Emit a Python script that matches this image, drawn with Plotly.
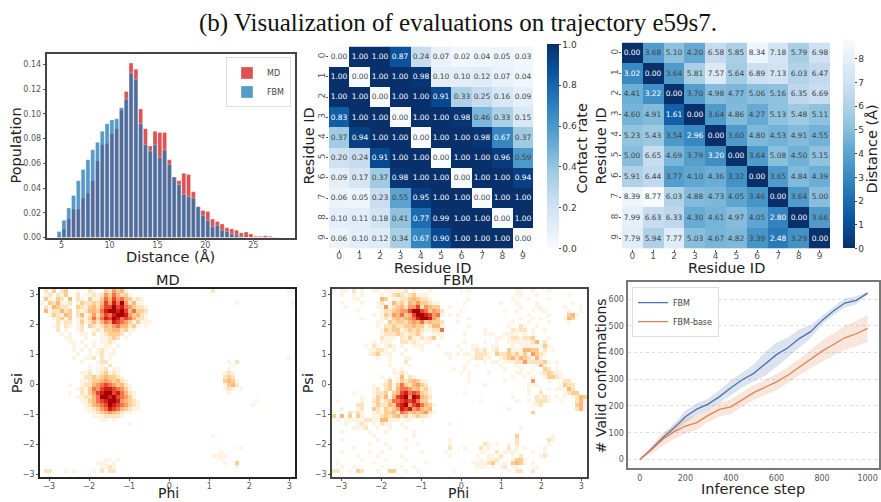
import plotly.graph_objects as go
import numpy as np

W, H = 881, 502

# ---------- histogram ----------
hist_centers = [4.75, 5.25, 5.75, 6.25, 6.75, 7.25, 7.75, 8.25, 8.75, 9.25, 9.75, 10.25, 10.75, 11.25, 11.75, 12.25,
                12.75, 13.25, 13.75, 14.25, 14.75, 15.25, 15.75, 16.25, 16.75, 17.25, 17.75, 18.25, 18.75, 19.25,
                19.75, 20.25, 20.75, 21.25, 21.75, 22.25, 22.75, 23.25, 23.75, 24.25, 24.75, 25.25, 25.75, 26.25,
                26.75, 27.25]
hist_fbm = [.005, .014, .024, .034, .046, .055, .063, .071, .077, .086, .092, .095, .096, .105, .112, .133,
            .128, .092, .075, .070, .075, .065, .071, .059, .049, .043, .035, .033, .032, .025,
            .018, .014, .009, .010, .006, .005, .003, .002, .001, 0, 0, 0, 0, 0, 0, 0]
hist_md = [.001, .007, .015, .023, .023, .032, .036, .046, .062, .075, .076, .084, .088, .103, .118, .141,
           .136, .104, .088, .074, .086, .085, .085, .063, .049, .046, .052, .051, .037, .025,
           .022, .021, .015, .013, .011, .008, .007, .006, .004, .0045, .003, .001, .001, .0015, .001, .0005]

# ---------- heatmaps ----------
residue_ids = list(range(10))
contact = [
    [0.00, 1.00, 1.00, 0.87, 0.24, 0.07, 0.02, 0.04, 0.05, 0.03],
    [1.00, 0.00, 1.00, 1.00, 0.98, 0.10, 0.10, 0.12, 0.07, 0.04],
    [1.00, 1.00, 0.00, 1.00, 1.00, 0.91, 0.33, 0.25, 0.16, 0.09],
    [0.83, 1.00, 1.00, 0.00, 1.00, 1.00, 0.98, 0.46, 0.33, 0.15],
    [0.37, 0.94, 1.00, 1.00, 0.00, 1.00, 1.00, 0.98, 0.67, 0.37],
    [0.20, 0.24, 0.91, 1.00, 1.00, 0.00, 1.00, 1.00, 0.96, 0.59],
    [0.09, 0.17, 0.37, 0.98, 1.00, 1.00, 0.00, 1.00, 1.00, 0.94],
    [0.06, 0.05, 0.23, 0.55, 0.95, 1.00, 1.00, 0.00, 1.00, 1.00],
    [0.10, 0.11, 0.18, 0.41, 0.77, 0.99, 1.00, 1.00, 0.00, 1.00],
    [0.06, 0.10, 0.12, 0.34, 0.67, 0.90, 1.00, 1.00, 1.00, 0.00],
]
distance = [
    [0.00, 3.68, 5.10, 4.20, 6.58, 5.85, 8.34, 7.18, 5.79, 6.98],
    [3.02, 0.00, 3.64, 5.81, 7.57, 5.64, 6.89, 7.13, 6.03, 6.47],
    [4.41, 3.22, 0.00, 3.70, 4.98, 4.77, 5.06, 5.16, 6.35, 6.69],
    [4.60, 4.91, 1.61, 0.00, 3.64, 4.86, 4.27, 5.13, 5.48, 5.11],
    [5.23, 5.43, 3.54, 2.96, 0.00, 3.60, 4.80, 4.53, 4.91, 4.55],
    [5.00, 6.65, 4.69, 3.79, 3.20, 0.00, 3.64, 5.08, 4.50, 5.15],
    [5.91, 6.44, 3.77, 4.10, 4.36, 3.32, 0.00, 3.65, 4.84, 4.39],
    [8.39, 8.77, 6.03, 4.88, 4.73, 4.05, 3.46, 0.00, 3.64, 5.00],
    [7.99, 6.63, 6.33, 4.30, 4.61, 4.97, 4.05, 2.80, 0.00, 3.66],
    [7.79, 5.94, 7.77, 5.03, 4.67, 4.82, 3.39, 2.48, 3.29, 0.00],
]

# ---------- Ramachandran densities, levels read by eye (top row = largest psi) ----------
rama_md_rows = [
"02130230 01002100 32534100 00000000 00000000 00020000 00000000 00000010",
"01202130 02011212 53642310 00000000 00000000 00000000 00000000 00000000",
"03113204 02103113 64756431 21000000 00000000 00000000 00000000 00000000",
"10324112 01322324 75869524 11000000 00000000 00000000 01000000 00000001",
"02143221 03213425 77978653 22100000 00000000 00000000 00000000 00000000",
"04122423 02124436 89989746 33200000 00000000 00000000 00000000 00000000",
"00132143 02412525 76899853 42100000 00000000 00000000 00000000 00000000",
"00012313 01213636 87986764 22100000 00000000 00000000 00000000 00000000",
"00002122 01312424 65876531 31110000 00000000 00000000 00000000 00000000",
"00012021 01203212 43564423 10100000 00000000 00000000 00000000 00000000",
"00002010 01200121 33442311 00000000 00000000 00000000 00000000 00000000",
"00000101 00110201 23332010 00000000 00000000 00000000 00000000 00000000",
"00000011 00010001 12320100 00000000 00000000 00000000 00000000 00000000",
"00000001 10100101 12100000 00000000 00000000 00000000 00000000 00000000",
"00000000 10010100 11010000 00000000 00000000 00000000 00000000 00000000",
"00000000 10101012 10100000 00000000 00000000 00000000 00000000 00000000",
"00000000 01001012 01100000 00000000 00000000 00000000 00000000 00000000",
"00000000 10011202 01000000 00000000 00000000 00000000 00000000 00000010",
"00000000 00100012 20000000 00000000 00000000 00000001 02000000 00000000",
"00000000 00001001 02000000 00000000 00000000 00000000 10000000 00000000",
"00000000 00001011 20110000 00000000 00000000 00000001 00000000 00000000",
"00000000 00112012 31210000 00000000 00000000 00000012 10000000 00000000",
"00000000 00022323 43321000 00000000 00000000 00000023 20000000 00000000",
"00000000 00112334 54342100 00000000 00000000 00000034 31000000 00000000",
"00000001 00122456 76534210 00000000 00000000 00000013 42000000 00000000",
"00000000 01213657 88765310 00000000 00000000 00000012 10100000 00000000",
"00000001 00213578 99786421 00000000 00000000 00000001 00000000 00000000",
"00000000 01122469 98976531 00000000 00000000 00000000 00000000 00000000",
"00000000 00113467 89985432 10000000 00000000 00000000 00000010 00000000",
"00000000 00012456 79876532 10000000 00000000 00000000 00000100 00000000",
"00000000 00011235 68764321 10000000 00000000 00000000 00000000 00000000",
"00000000 00001123 45432110 00000000 00000000 00000000 00000000 00000000",
"00000000 00000111 22221000 00000000 00000000 00000000 00000000 00000000",
"00000000 00000001 10100000 00000000 00000000 00000000 00000000 00000000",
"00000000 00000000 00000010 00000000 00000000 00000000 00000000 00000000",
"00000000 00000000 00000000 00000000 00000000 00000000 00000000 00000000",
"00000000 00000000 00000000 00000000 00000000 00000000 00000000 00000000",
"00000000 00000000 00000000 00000000 00000000 00010000 00000000 00000000",
"00000000 00000000 00000000 00000000 00000000 00000000 00000000 00000000",
"00000000 00000000 00000000 00000000 00000000 00000000 00000000 00000000",
"00000000 00000000 00000000 00000000 00000000 00000000 00100000 00000000",
"00000000 00000000 00000000 00000000 00000000 00000100 00000000 00000000",
"00000000 00000000 00000000 00000000 00000000 00011110 00000000 00000000",
"00000000 00000000 11010000 00000000 00000000 00000100 00000000 00000000",
"00000000 00000011 10100000 00000000 00000000 00000010 03000000 00000000",
"00000000 00000001 12100000 00000000 00000000 00000000 01000000 00000000",
"02200010 10000102 02200000 00000000 00000000 00000000 00000000 00000000",
"00000000 00000000 00000000 00000000 00000000 00000000 00000000 00000000",
]
rama_fbm_rows = [
"10110201 00110111 11201000 10000000 10100000 00000011 00100010 00000000",
"00100101 00001012 32123111 00000000 00000000 00000011 00010000 00010000",
"00000110 00004301 12234322 10000000 00100000 00000100 01000010 00000000",
"00100001 00012014 23143533 21100000 01000000 00100010 00010000 00001000",
"00010000 00011512 34255725 43300100 00000000 00000001 00011000 00100010",
"00000010 00001223 45579976 35420000 10000000 00010010 00101100 00010010",
"00000000 00101325 46347998 75610101 00000000 00000000 01000010 00034100",
"00000001 00001213 43456899 85300000 00100000 00000001 00101000 00143000",
"00000000 00011032 33245463 43320001 00000000 00000100 01000010 00010000",
"00000000 00010223 22334331 24410000 00100000 00001002 10010000 00000000",
"00000000 00001323 31232321 12260000 00000010 00000212 20100100 00000000",
"00000000 00001222 32122310 01110000 01000011 10011110 10100000 00000000",
"00000000 00002111 02131121 23010000 00000000 01101221 22300010 00000000",
"00000000 00101110 02212101 10000000 01000010 01001111 11240200 00000000",
"00000000 10210121 01001110 00100001 00011000 11000101 11111310 00000000",
"00000000 01122101 00100010 00000000 10012120 12003111 44330201 00000000",
"00000000 01231110 01000000 00001101 01102221 03223231 31532100 00000000",
"00000000 00010010 00110000 00000100 00012211 00123424 32141000 00000000",
"00000000 00000010 00200000 00000000 00100010 11011122 52222310 10000000",
"00000000 00000010 00010000 00000000 01001000 00100010 00014100 00000000",
"00000000 00000001 01000000 00000010 01000000 00010001 00100320 10000000",
"00000000 00000001 12100000 00000000 10100001 00000011 01001232 11000000",
"00000000 00001010 14021000 00000000 00100000 00000100 10100133 21000000",
"00000000 00000130 13234311 00000000 00100000 00010000 00500010 00220000",
"00000000 00101231 36324532 00000000 00000010 00000000 01110000 01322000",
"00000000 00120231 46653423 10000000 00000000 00000000 01001010 11142000",
"00000100 00122303 47867632 10000000 01000000 00000000 01002000 00123300",
"00000001 00132414 78959843 20000000 00000000 00000100 00021210 10101243",
"01000001 00231236 67878633 10000000 00000100 00000010 01022210 01000241",
"00000022 00132243 78957864 31000000 00000000 00000000 00112000 00000341",
"00100012 00321323 58785643 40000000 00000000 00001000 00000000 00000241",
"00002121 00121334 26534345 21000000 00000000 00000000 00300000 00000000",
"30403031 00112323 42312322 10000000 00000000 00000000 00000000 00000000",
"01011111 22114411 10110010 00000000 00000000 00000000 00000000 00000000",
"00010012 10102110 01000000 00000100 00000000 00000000 00000000 00000000",
"00000111 20010010 00100000 00000000 00000000 00000001 00000000 00000000",
"00100000 01000100 00001000 00000000 00000000 00000000 00000000 00000000",
"00000000 00100000 00001000 00000000 00000000 00000030 00000001 00000000",
"00100000 00010000 00100000 00000100 00000000 00000020 00000021 00000000",
"00000000 01000100 00000100 00000100 00000021 01001020 00000010 00000000",
"00000100 00000010 00100000 00000200 01000201 00002010 10000100 00000000",
"00100000 01001000 00000010 00001000 00000110 02011110 00100100 00000000",
"00000010 00010000 01000000 00000100 00001001 10200102 00001200 00000000",
"00000001 00000100 00100000 00000000 00000101 12100133 10000000 00000000",
"01000000 00100000 00000001 00000000 00011112 31010343 10100000 00000000",
"00100100 00001000 01001000 00000000 00001110 10120110 00010000 00000000",
"22001032 00010033 00100100 00000010 00000000 00001022 00200000 00000000",
"00000000 00000000 00000000 00000000 00000000 00000000 00000000 00000000",
]

# ---------- valid conformations ----------
steps = [0, 50, 100, 150, 200, 250, 300, 350, 400, 450, 500, 550, 600, 650, 700, 750, 800, 850, 900, 950, 1000]
fbm_mean = [0, 38, 80, 118, 160, 188, 207, 235, 268, 298, 322, 358, 392, 418, 452, 478, 520, 555, 585, 595, 622]
fbm_band = [0, 5, 8, 15, 22, 22, 20, 24, 28, 28, 32, 45, 45, 38, 35, 25, 15, 15, 18, 15, 5]
base_mean = [0, 35, 75, 103, 125, 138, 165, 187, 197, 225, 250, 270, 290, 315, 345, 375, 405, 430, 455, 470, 490]
base_band = [0, 15, 25, 27, 28, 27, 25, 26, 28, 28, 28, 29, 30, 30, 30, 35, 40, 42, 45, 48, 50]

# ---------- helpers ----------
BLUES = ['#f7fbff', '#deebf7', '#c6dbef', '#9ecae1', '#6baed6', '#4292c6', '#2171b5', '#08519c', '#08306b']
blues_scale = [[i / 8, c] for i, c in enumerate(BLUES)]
blues_r_scale = [[i / 8, c] for i, c in enumerate(reversed(BLUES))]
ORRD = [[0, '#ffffff'], [0.08, '#ffffff'], [0.11, '#fff3e3'], [0.22, '#fee3c0'], [0.33, '#fdcf95'], [0.44, '#fdb97d'],
        [0.56, '#fb9a66'], [0.67, '#f4714c'], [0.78, '#e4452f'], [0.89, '#cc2014'], [1, '#a80000']]
FONT = 'DejaVu Sans'
TITLE_SIZE = 14.5
YOFF = 3


def py(p):
    return 1 - (p + YOFF) / H


def px_dom_x(a, b):
    return [a / W, b / W]


def px_dom_y(top, bottom):
    return [py(bottom), py(top)]


def parse_rows(rows):
    return [[int(ch) for ch in r.replace(' ', '')] for r in rows]


def ax(dom, rng, tickvals=None, frame='#444444', lw=1.5, tsize=8, **kw):
    d = dict(domain=dom, range=rng, showgrid=False, zeroline=False, showline=True, linecolor=frame, linewidth=lw,
             mirror=True, tickfont=dict(family=FONT, size=tsize, color='#555555'), ticks='outside', ticklen=2,
             tickcolor='#555555', tickwidth=1)
    if tickvals is not None:
        d['tickmode'] = 'array'
        d['tickvals'] = tickvals
    d.update(kw)
    return d


def label(text, x, y, angle=0, size=TITLE_SIZE):
    return dict(text=text, x=x / W, y=py(y), xref='paper', yref='paper', showarrow=False, xanchor='center', yanchor='middle',
                textangle=angle, font=dict(family=FONT, size=size, color='#222222'))


fig = go.Figure()
layout = dict(width=W, height=H, margin=dict(l=0, r=0, t=0, b=0), paper_bgcolor='white', plot_bgcolor='white',
              autosize=False)

layout['title'] = dict(text='(b) Visualization of evaluations on trajectory e59s7.', x=458 / W, xanchor='center',
                       y=1 - 22 / H, yanchor='middle', font=dict(family='Liberation Serif', size=25, color='#111111'))

# Panel 1: histogram
fig.add_bar(x=hist_centers, y=hist_md, name='MD', width=0.42, marker=dict(color='rgba(214,39,40,0.8)',
            line=dict(color='rgba(255,255,255,0.6)', width=0.5)), xaxis='x', yaxis='y', legend='legend')
fig.add_bar(x=hist_centers, y=hist_fbm, name='FBM', width=0.42, marker=dict(color='rgba(31,119,180,0.75)',
            line=dict(color='rgba(255,255,255,0.6)', width=0.5)), xaxis='x', yaxis='y', legend='legend')
layout['barmode'] = 'overlay'
layout['xaxis'] = ax(px_dom_x(46.5, 295), [3.43, 29.35], [5, 10, 15, 20, 25], ticklabelstandoff=-3)
layout['yaxis'] = ax(px_dom_y(52, 237), [0, 0.148], [0, .02, .04, .06, .08, .10, .12, .14], tickformat='.2f')
layout['legend'] = dict(x=291 / W, xanchor='right', y=py(55), yanchor='top', bgcolor='white', bordercolor='#dddddd',
                        borderwidth=1, font=dict(family=FONT, size=8, color='#444444'), traceorder='normal',
                        itemwidth=30, tracegroupgap=0, entrywidth=24, entrywidthmode='pixels')

# Panel 2: contact rate
fig.add_heatmap(z=contact, x=residue_ids, y=residue_ids, colorscale=blues_scale, zmin=0, zmax=1, xaxis='x2', yaxis='y2',
                texttemplate='%{z:.2f}', textfont=dict(family=FONT, size=7.5), hoverinfo='skip', showlegend=False,
                colorbar=dict(x=547 / W, xanchor='left', y=py(248), yanchor='bottom', lenmode='pixels', len=204,
                              thickness=12, outlinewidth=0, tickvals=[0, .2, .4, .6, .8, 1], tickformat='.1f',
                              ticks='outside', ticklen=2, tickfont=dict(family=FONT, size=9, color='#333333'), xpad=0, ypad=0))
layout['xaxis2'] = ax(px_dom_x(329, 533), [-0.5, 9.5], residue_ids, anchor='y2', showline=False, tsize=9, ticklabelstandoff=-3)
layout['yaxis2'] = ax(px_dom_y(44, 248), [9.5, -0.5], residue_ids, anchor='x2', showline=False, tickangle=-90, tsize=9,
                      ticklabelstandoff=-3)

# Panel 3: distance
fig.add_heatmap(z=distance, x=residue_ids, y=residue_ids, colorscale=blues_r_scale, zmin=0, zmax=8.77, xaxis='x3', yaxis='y3',
                texttemplate='%{z:.2f}', textfont=dict(family=FONT, size=7.5), hoverinfo='skip', showlegend=False,
                colorbar=dict(x=843 / W, xanchor='left', y=py(248), yanchor='bottom', lenmode='pixels', len=208,
                              thickness=12, outlinewidth=0, tickvals=list(range(9)), ticks='outside', ticklen=2,
                              tickfont=dict(family=FONT, size=9, color='#333333'), xpad=0, ypad=0))
layout['xaxis3'] = ax(px_dom_x(622, 830), [-0.5, 9.5], residue_ids, anchor='y3', showline=False, tsize=9, ticklabelstandoff=-3)
layout['yaxis3'] = ax(px_dom_y(40, 248), [9.5, -0.5], residue_ids, anchor='x3', showline=False, tickangle=-90, tsize=9,
                      ticklabelstandoff=-3)

# Panels 4 and 5: Ramachandran
phi_range = [-3.23, 3.14]
psi_range = [-3.1, 3.17]
rama_md = parse_rows(rama_md_rows)
rama_fbm = parse_rows(rama_fbm_rows)
phi_centers = np.linspace(phi_range[0], phi_range[1], 65)[:-1] + (phi_range[1] - phi_range[0]) / 128
psi_centers = np.linspace(psi_range[1], psi_range[0], 49)[:-1] - (psi_range[1] - psi_range[0]) / 96
for z, xa, ya in [(rama_md, 'x4', 'y4'), (rama_fbm, 'x5', 'y5')]:
    fig.add_heatmap(z=z, x=phi_centers, y=psi_centers, colorscale=ORRD, zmin=0, zmax=9, showscale=False, xaxis=xa, yaxis=ya,
                    hoverinfo='skip', zsmooth=False)
ticks = [-3, -2, -1, 0, 1, 2, 3]
layout['xaxis4'] = ax(px_dom_x(40, 295), phi_range, ticks, anchor='y4', frame='#222222', tickformat='d', ticklabelstandoff=-2)
layout['yaxis4'] = ax(px_dom_y(289, 479), psi_range, ticks, anchor='x4', frame='#222222', tickformat='d')
layout['xaxis5'] = ax(px_dom_x(332, 587), phi_range, ticks, anchor='y5', frame='#444444', tickformat='d', ticklabelstandoff=-2)
layout['yaxis5'] = ax(px_dom_y(289, 479), psi_range, ticks, anchor='x5', frame='#444444', tickformat='d')

# Panel 6: valid conformations
s = np.array(steps)
for mean, band, color, fillc, name in [(fbm_mean, fbm_band, '#4c72b0', 'rgba(76,114,176,0.2)', 'FBM'),
                                       (base_mean, base_band, '#dd8452', 'rgba(221,132,82,0.2)', 'FBM-base')]:
    m = np.array(mean)
    b = np.array(band)
    fig.add_scatter(x=np.concatenate([s, s[::-1]]), y=np.concatenate([m + b, (m - b)[::-1]]), mode='lines', fill='toself',
                    fillcolor=fillc, line=dict(width=0), hoverinfo='skip', showlegend=False, xaxis='x6', yaxis='y6')
    fig.add_scatter(x=s, y=m, mode='lines', name=name, line=dict(color=color, width=1.3), xaxis='x6', yaxis='y6',
                    legend='legend2')
layout['xaxis6'] = ax(px_dom_x(627.5, 879), [-54, 1050], [0, 200, 400, 600, 800, 1000], anchor='y6', frame='#777777', lw=2, ticks='',
                      ticklabelstandoff=1)
layout['yaxis6'] = ax(px_dom_y(282, 470), [-33, 663], [0, 100, 200, 300, 400, 500, 600], anchor='x6', frame='#777777', lw=2, ticks='',
                      showgrid=True, gridcolor='#dddddd', griddash='dot', gridwidth=1)
layout['legend2'] = dict(x=632 / W, xanchor='left', y=py(287), yanchor='top', bgcolor='white', bordercolor='#dddddd',
                         borderwidth=1, font=dict(family=FONT, size=8, color='#444444'), itemwidth=30)

layout['annotations'] = [
    label('Distance (Å)', 170, 257), label('Population', 16, 144, -90),
    label('Residue ID', 432, 268), label('Residue ID', 309, 145, -90),
    label('Contact rate', 582, 147, -90),
    label('Residue ID', 726, 268), label('Residue ID', 601, 145, -90),
    label('Distance (Å)', 872, 148, -90),
    label('MD', 168, 280), label('FBM', 459, 280),
    label('Phi', 168, 495, size=14), label('Phi', 459, 495, size=14),
    label('Psi', 17, 384, -90), label('Psi', 308, 384, -90),
    label('Inference step', 753, 491), label('# Valid conformations', 601, 377, -90, size=14),
]
fig.update_layout(**layout)
fig.write_html('out.html', config={'displayModeBar': False},
               post_script="document.body.style.margin='0';document.body.style.overflow='hidden';")
